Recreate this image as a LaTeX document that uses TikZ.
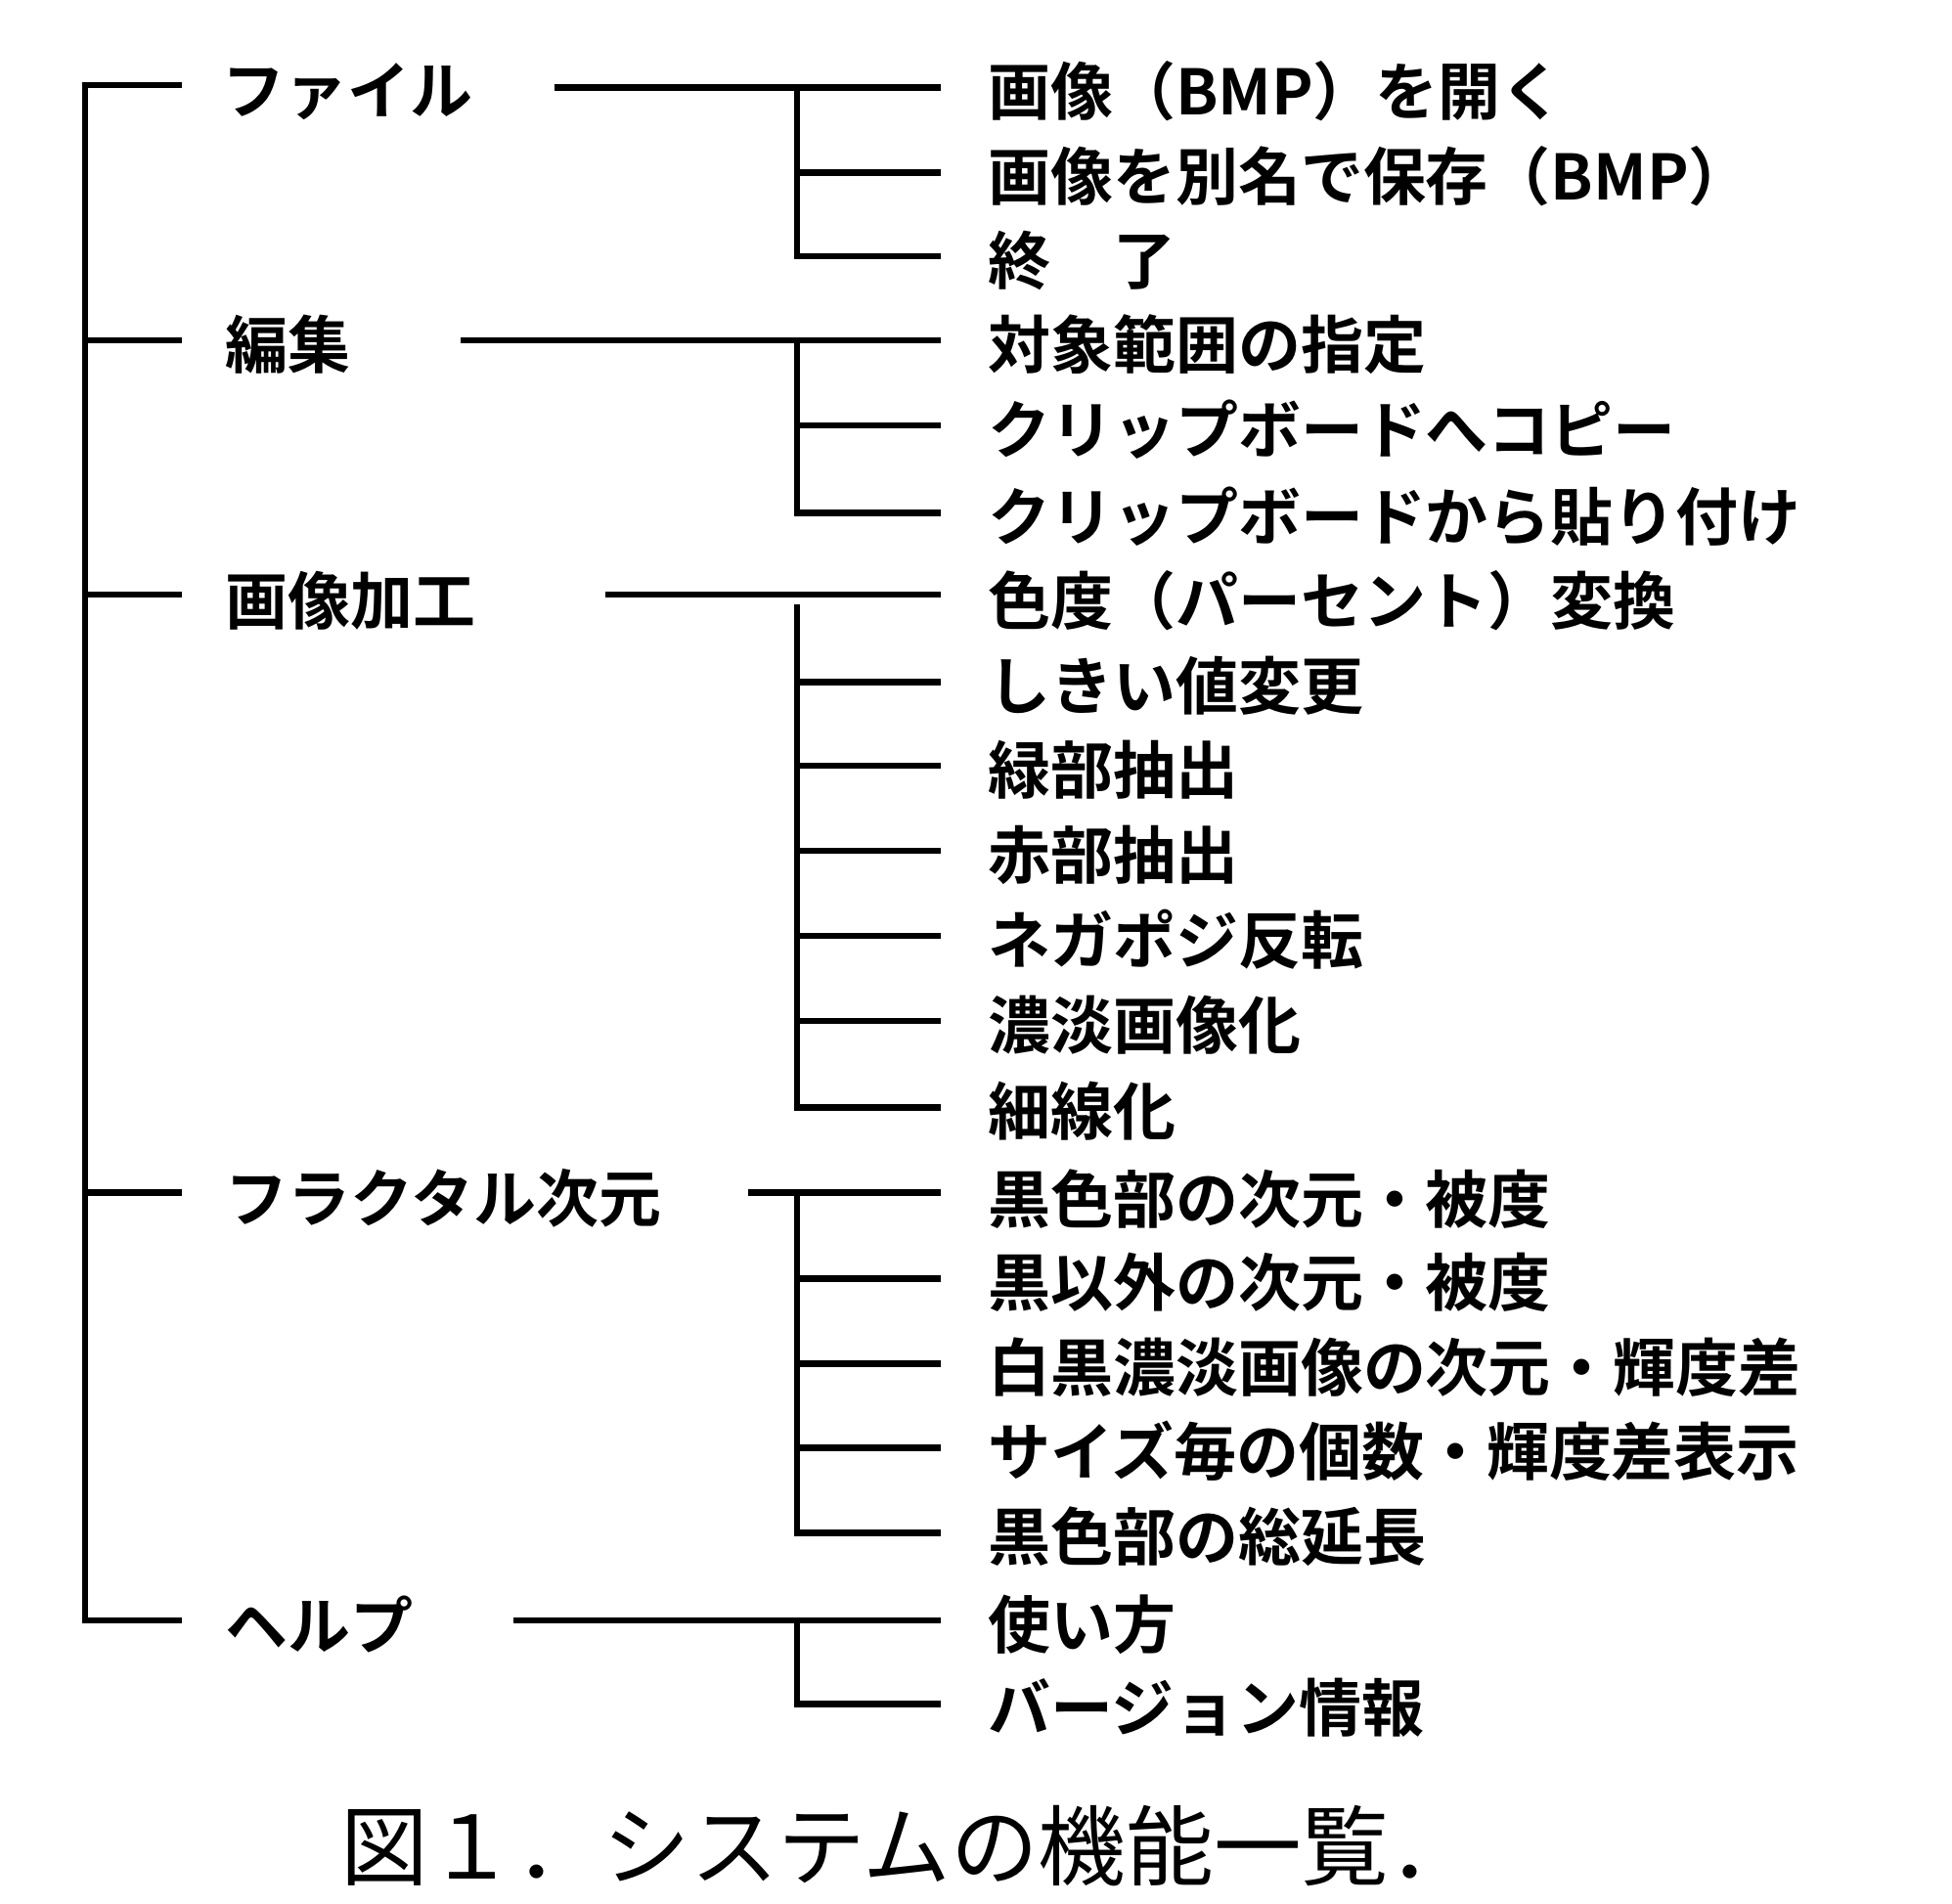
\documentclass[tikz,border=0pt]{standalone}
\usepackage{fontspec}
\setmainfont{Noto Sans CJK JP}[BoldFont=* Bold]
\begin{document}
\begin{tikzpicture}[x=1pt,y=-1pt,line width=5pt,
  lab/.style={anchor=west,inner sep=0pt,font=\fontsize{50}{52}\selectfont\bfseries},
  captext/.style={anchor=center,inner sep=0pt,font=\fontsize{70}{72}\selectfont}]
\useasboundingbox (0,0) rectangle (1560,1521);
\draw (145,68) -- (68,68) -- (68,1295) -- (145,1295);
\foreach \y in {272,475,953} \draw (68,\y) -- (145,\y);
\node[lab] (f) at (175,73) {ファイル};
\node[lab] (e) at (178,275) {編集};
\node[lab] (g) at (178,480) {画像加工};
\node[lab] (r) at (178,958) {フラクタル次元};
\node[lab] (h) at (178,1298) {ヘルプ};
% file
\draw (443,70) -- (752,70);
\draw (637,70) -- (637,205) -- (752,205);
\draw (637,138) -- (752,138);
\node[lab] at (787,73) {画像（BMP）を開く};
\node[lab] at (787,141) {画像を別名で保存（BMP）};
\node[lab] at (787,208) {終\quad 了};
% edit
\draw (368,272) -- (752,272);
\draw (637,272) -- (637,410) -- (752,410);
\draw (637,340) -- (752,340);
\node[lab] at (787,275) {対象範囲の指定};
\node[lab] at (787,343) {クリップボードへコピー};
\node[lab] at (787,413) {クリップボードから貼り付け};
% image
\draw (484,475) -- (752,475);
\draw (637,483) -- (637,885) -- (752,885);
\foreach \y in {545,612,680,748,816} \draw (637,\y) -- (752,\y);
\node[lab] at (787,480) {色度（パーセント）変換};
\node[lab] at (787,548) {しきい値変更};
\node[lab] at (787,615) {緑部抽出};
\node[lab] at (787,683) {赤部抽出};
\node[lab] at (787,751) {ネガポジ反転};
\node[lab] at (787,819) {濃淡画像化};
\node[lab] at (787,888) {細線化};
% fractal
\draw (598,953) -- (752,953);
\draw (637,953) -- (637,1225) -- (752,1225);
\foreach \y in {1022,1090,1157} \draw (637,\y) -- (752,\y);
\node[lab] at (787,958) {黒色部の次元・被度};
\node[lab] at (787,1025) {黒以外の次元・被度};
\node[lab] at (787,1093) {白黒濃淡画像の次元・輝度差};
\node[lab] at (787,1160) {サイズ毎の個数・輝度差表示};
\node[lab] at (787,1228) {黒色部の総延長};
% help
\draw (410,1295) -- (752,1295);
\draw (637,1295) -- (637,1362) -- (752,1362);
\node[lab] at (787,1298) {使い方};
\node[lab] at (787,1365) {バージョン情報};
\node[captext] (c) at (726,1475) {図１．システムの機能一覧．};
\end{tikzpicture}
\end{document}
